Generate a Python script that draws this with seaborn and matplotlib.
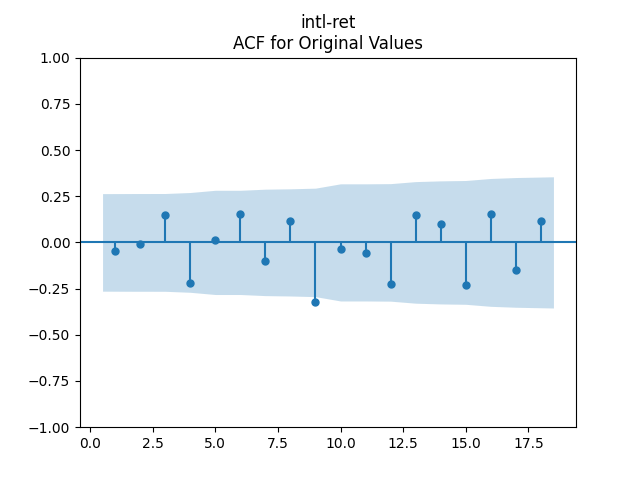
import numpy as np
import pandas as pd
import matplotlib
matplotlib.use("Agg")
import matplotlib.pyplot as plt
import seaborn as sns

# Data
lags = list(range(1, 19))
acf_values = [-0.045, -0.011, 0.146, -0.218, 0.015, 0.155, -0.099, 0.114, -0.321,
              -0.038, -0.056, -0.224, 0.146, 0.098, -0.229, 0.152, -0.152, 0.114]
conf_halfwidth = [0.264, 0.2645, 0.2646, 0.270, 0.282, 0.282, 0.288, 0.290, 0.2935,
                  0.317, 0.317, 0.318, 0.329, 0.333, 0.335, 0.346, 0.351, 0.355]
title_text = "intl-ret\nACF for Original Values"

df = pd.DataFrame({"lag": lags, "acf": acf_values})

fig, ax = plt.subplots(figsize=(6.4, 4.8), dpi=100)

# confidence band (first/last lag widened by half a step, like statsmodels)
band_x = np.array(lags, dtype=float)
band_x[0] -= 0.5
band_x[-1] += 0.5
hw = np.array(conf_halfwidth)
ax.fill_between(band_x, -hw, hw, color="C0", alpha=0.25, linewidth=0)

ax.axhline(0, color="C0", linewidth=1.5)
ax.vlines(df["lag"], 0, df["acf"], color="C0", linewidth=1.5)
sns.scatterplot(data=df, x="lag", y="acf", ax=ax, color="C0", s=25,
                edgecolor="C0", linewidth=1, zorder=3)

ax.set_ylim(-1, 1)
ax.set_xlabel("")
ax.set_ylabel("")
ax.set_title(title_text, fontsize=12)

fig.savefig("out.png", dpi=100)
